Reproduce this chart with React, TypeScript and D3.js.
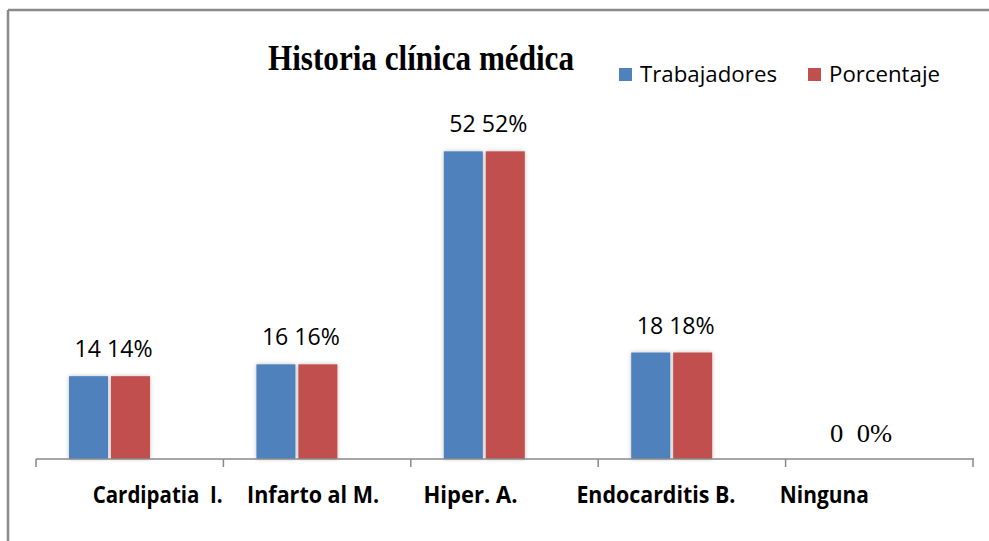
import React from "react";
import * as d3 from "d3";

const categories = ["Cardipatia  I.", "Infarto al M.", "Hiper. A.", "Endocarditis B.", "Ninguna"];
const trabajadores = [14, 16, 52, 18, 0];
const porcentaje = [14, 16, 52, 18, 0];
const seriesNames = ["Trabajadores", "Porcentaje"];
const title = "Historia clínica médica";

const COLORS = ["#4F81BD", "#C0504D"];
const W = 989;
const H = 541;
// per-category label horizontal shifts (layout only)
const LABEL_DX = [28, -4, -34, -36, -55];
const LABEL_W = [130, 132, 94, 159, 89];

export default function App() {
  const x = d3.scaleBand<string>().domain(categories).range([36, 973]).paddingInner(0).paddingOuter(0);
  const inner = d3.scaleBand<string>().domain(seriesNames).range([33, 114]).paddingInner(0.07).paddingOuter(0);
  const y = d3.scaleLinear().domain([0, 60]).range([459, 104]);
  const baseY = y(0);
  const series = [trabajadores, porcentaje];
  const ticks = [...categories.map((c) => x(c) as number), 973];

  return (
    <svg width={W} height={H} style={{ position: "absolute", left: 0, top: 0, background: "#fff" }}>
      <defs>
        <filter id="shadow" x="-20%" y="-5%" width="140%" height="110%">
          <feDropShadow dx="0" dy="0" stdDeviation="2" floodColor="#000" floodOpacity="0.25" />
        </filter>
      </defs>
      <rect x={0} y={0} width={W} height={H} fill="#fff" />
      {/* frame */}
      <line x1={8} y1={10} x2={W} y2={10} stroke="#8a8a8a" strokeWidth={2.5} />
      <line x1={8} y1={10} x2={8} y2={H} stroke="#8a8a8a" strokeWidth={2.5} />

      {/* title */}
      <text
        x={268}
        y={70}
        fontFamily="'Liberation Serif', 'DejaVu Serif', serif"
        fontWeight="bold"
        fontSize={35}
        textLength={306}
        lengthAdjust="spacingAndGlyphs"
        fill="#000"
      >
        {title}
      </text>

      {/* legend */}
      {seriesNames.map((s, i) => {
        const lx = [619, 808][i];
        const tw = [137, 111][i];
        return (
          <g key={s}>
            <rect x={lx} y={68} width={13} height={13} fill={COLORS[i]} />
            <text
              x={lx + 21}
              y={82}
              fontFamily="'Open Sans', 'Noto Sans', sans-serif"
              fontSize={21}
              textLength={tw}
              lengthAdjust="spacingAndGlyphs"
              fill="#000"
            >
              {s}
            </text>
          </g>
        );
      })}

      {/* bars */}
      {categories.map((c, ci) => (
        <g key={c} transform={`translate(${x(c)},0)`}>
          {series.map((vals, si) =>
            vals[ci] > 0 ? (
              <rect
                key={si}
                x={inner(seriesNames[si])}
                y={y(vals[ci])}
                width={inner.bandwidth()}
                height={baseY - y(vals[ci])}
                fill={COLORS[si]}
                filter="url(#shadow)"
              />
            ) : null
          )}
        </g>
      ))}

      {/* data labels */}
      {categories.map((c, ci) => {
        const cx = (x(c) as number) + ((inner(seriesNames[0]) as number) + (inner(seriesNames[1]) as number) + inner.bandwidth()) / 2;
        const top = y(Math.max(trabajadores[ci], porcentaje[ci]));
        const zero = trabajadores[ci] === 0;
        if (zero) {
          return (
            <text
              key={c}
              x={cx + 2}
              y={top - 17}
              textAnchor="middle"
              fontFamily="'Liberation Serif', serif"
              fontSize={25}
              textLength={62}
              lengthAdjust="spacingAndGlyphs"
              style={{ whiteSpace: "pre" }}
              fill="#000"
            >
              {`${trabajadores[ci]}  ${porcentaje[ci]}%`}
            </text>
          );
        }
        return (
          <text
            key={c}
            x={cx + 4}
            y={top - 19}
            textAnchor="middle"
            fontFamily="'Open Sans', 'Noto Sans', sans-serif"
            fontSize={23}
            textLength={78}
            lengthAdjust="spacingAndGlyphs"
            fill="#000"
          >
            {`${trabajadores[ci]} ${porcentaje[ci]}%`}
          </text>
        );
      })}

      {/* axis */}
      <line x1={36} y1={baseY} x2={974} y2={baseY} stroke="#898989" strokeWidth={1.5} />
      {ticks.map((t, i) => (
        <line key={i} x1={t} y1={baseY} x2={t} y2={baseY + 8} stroke="#898989" strokeWidth={1.5} />
      ))}
      {categories.map((c, ci) => (
        <text
          key={c}
          x={(x(c) as number) + x.bandwidth() / 2 + LABEL_DX[ci]}
          y={503}
          textAnchor="middle"
          fontFamily="'Open Sans', 'Noto Sans', sans-serif"
          fontWeight="bold"
          fontSize={23}
          textLength={LABEL_W[ci]}
          lengthAdjust="spacingAndGlyphs"
          style={{ whiteSpace: "pre" }}
          fill="#000"
        >
          {c}
        </text>
      ))}
    </svg>
  );
}
